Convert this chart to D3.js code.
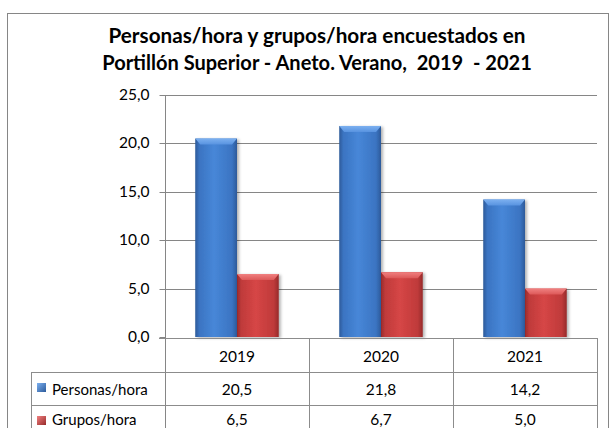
<!DOCTYPE html>
<html>
<head>
<meta charset="utf-8">
<script src="https://cdn.jsdelivr.net/npm/d3@7"></script>
<style>
  body { margin: 0; background: #fff; }
  svg { display: block; font-family: Lato, "Open Sans", sans-serif; }
  text { white-space: pre; }
</style>
</head>
<body>
<svg width="609" height="428"></svg>
<script>
const years = ["2019", "2020", "2021"];
const series = ["Personas/hora", "Grupos/hora"];
const personas = [20.5, 21.8, 14.2];
const grupos = [6.5, 6.7, 5.0];
const yTicks = [0, 5, 10, 15, 20, 25];
const titleLines = [
  "Personas/hora y grupos/hora encuestados en",
  "Portillón Superior - Aneto. Verano,  2019  - 2021"
];

const values = [personas, grupos];
const colors = {
  "Personas/hora": { edge: "#2c5a9a", mid: "#4787d8", side: "#3b74c2", top: "#7cb0f0", top2: "#5893e0" },
  "Grupos/hora": { edge: "#962a2a", mid: "#d64646", side: "#bf3a3a", top: "#f08080", top2: "#dc5858" }
};

const svg = d3.select("svg");
const defs = svg.append("defs");

const plotLeft = 165, plotRight = 597, plotTop = 95, plotBottom = 337;

const x = d3.scaleBand().domain(years).range([plotLeft, plotRight]);
const x1 = d3.scaleBand().domain(series)
  .range([x.bandwidth() * 0.21, x.bandwidth() * 0.79]);
const y = d3.scaleLinear().domain([0, 25]).range([plotBottom, plotTop]);
const fmt = v => d3.format(".1f")(v).replace(".", ",");

// gradients
series.forEach((s, i) => {
  const c = colors[s];
  const g = defs.append("linearGradient").attr("id", "bar" + i)
    .attr("x1", 0).attr("x2", 1).attr("y1", 0).attr("y2", 0);
  [[0, c.edge], [0.1, c.side], [0.45, c.mid], [0.88, c.side], [1, c.edge]].forEach(st => {
    g.append("stop").attr("offset", st[0]).attr("stop-color", st[1]);
  });
  const t = defs.append("linearGradient").attr("id", "top" + i)
    .attr("x1", 0).attr("x2", 0).attr("y1", 0).attr("y2", 1);
  t.append("stop").attr("offset", 0).attr("stop-color", c.top);
  t.append("stop").attr("offset", 1).attr("stop-color", c.top2);
  const k = defs.append("linearGradient").attr("id", "key" + i)
    .attr("x1", 0).attr("x2", 1).attr("y1", 0).attr("y2", 1);
  k.append("stop").attr("offset", 0).attr("stop-color", c.top);
  k.append("stop").attr("offset", 1).attr("stop-color", c.edge);
});

const shadow = defs.append("filter").attr("id", "shadow")
  .attr("x", "-20%").attr("y", "-10%").attr("width", "150%").attr("height", "130%");
shadow.append("feDropShadow").attr("dx", 2).attr("dy", 1).attr("stdDeviation", 1.5)
  .attr("flood-color", "#000").attr("flood-opacity", 0.3);

// outer border
svg.append("rect").attr("x", 7.5).attr("y", 13.5).attr("width", 601).attr("height", 440)
  .attr("fill", "#fff").attr("stroke", "#868686");

// title
titleLines.forEach((line, i) => {
  const t = svg.append("text")
    .attr("x", 317).attr("y", 43 + i * 27)
    .attr("text-anchor", "middle")
    .attr("font-weight", "700").attr("font-size", "19px")
    .attr("fill", "#000")
    .text(line);
  const target = i === 0 ? 417 : 430;
  const w = t.node().getComputedTextLength();
  t.attr("font-size", (19 * target / w).toFixed(2) + "px");
});

// gridlines
svg.append("g").selectAll("line").data(yTicks.filter(d => d > 0)).join("line")
  .attr("x1", plotLeft).attr("x2", plotRight)
  .attr("y1", d => Math.round(y(d)) + 0.5).attr("y2", d => Math.round(y(d)) + 0.5)
  .attr("stroke", "#868686");

// y axis
const yAxis = svg.append("g").attr("transform", `translate(${plotLeft + 0.5},0.5)`)
  .call(d3.axisLeft(y).tickValues(yTicks).tickFormat(fmt).tickSize(6).tickPadding(10));
yAxis.select(".domain").remove();
yAxis.selectAll(".tick line").attr("stroke", "#868686");
yAxis.selectAll(".tick text").attr("font-size", "15.5px").attr("fill", "#000")
  .attr("font-family", "Lato, sans-serif");
yAxis.selectAll(".tick").attr("transform", d => `translate(0,${Math.round(y(d))})`);

// bars
const bars = svg.append("g");
years.forEach((yr, j) => {
  series.forEach((s, i) => {
    const v = values[i][j];
    const bx = x(yr) + x1(s);
    const bw = x1.bandwidth();
    const by = y(v);
    const bh = y(0) - y(v);
    const g = bars.append("g");
    g.append("rect")
      .attr("x", bx).attr("y", by).attr("width", bw).attr("height", bh)
      .attr("fill", `url(#bar${i})`)
      .attr("filter", "url(#shadow)");
    g.append("path")
      .attr("d", `M${bx},${by}H${bx + bw}L${bx + bw - 5},${by + 6}H${bx + 5}Z`)
      .attr("fill", `url(#top${i})`);
  });
});

// axis line
svg.append("line").attr("x1", plotLeft + 0.5).attr("x2", plotLeft + 0.5)
  .attr("y1", plotTop).attr("y2", 440).attr("stroke", "#868686");

// data table
const rowTop = [338, 372, 405, 438];
const rowBase = [362, 395, 425];
const legendLeft = 31;
const table = svg.append("g").attr("stroke", "#8c8c8c").attr("fill", "none");
table.append("line").attr("x1", plotLeft - 6).attr("x2", plotRight)
  .attr("y1", rowTop[0] + 0.5).attr("y2", rowTop[0] + 0.5);
[rowTop[1], rowTop[2], rowTop[3]].forEach(r => {
  table.append("line").attr("x1", legendLeft).attr("x2", plotRight)
    .attr("y1", r + 0.5).attr("y2", r + 0.5);
});
table.append("line").attr("x1", legendLeft + 0.5).attr("x2", legendLeft + 0.5)
  .attr("y1", rowTop[1]).attr("y2", 440);
years.forEach(yr => {
  const xe = Math.round(x(yr) + x.bandwidth()) + 0.5;
  table.append("line").attr("x1", xe).attr("x2", xe)
    .attr("y1", rowTop[0]).attr("y2", 440);
});

// header row
svg.append("g").selectAll("text").data(years).join("text")
  .attr("x", d => x(d) + x.bandwidth() / 2)
  .attr("y", rowBase[0])
  .attr("text-anchor", "middle").attr("font-size", "15.5px")
  .text(d => d);

// value rows
series.forEach((s, i) => {
  const base = rowBase[i + 1];
  svg.append("rect")
    .attr("x", 37).attr("y", rowTop[i + 1] + 11).attr("width", 9).attr("height", 9)
    .attr("fill", `url(#key${i})`);
  svg.append("text").attr("x", 52).attr("y", base)
    .attr("font-size", "15px").text(s);
  svg.append("g").selectAll("text").data(years).join("text")
    .attr("x", d => x(d) + x.bandwidth() / 2)
    .attr("y", base)
    .attr("text-anchor", "middle").attr("font-size", "15.5px")
    .text((d, j) => fmt(values[i][j]));
});
</script>
</body>
</html>
